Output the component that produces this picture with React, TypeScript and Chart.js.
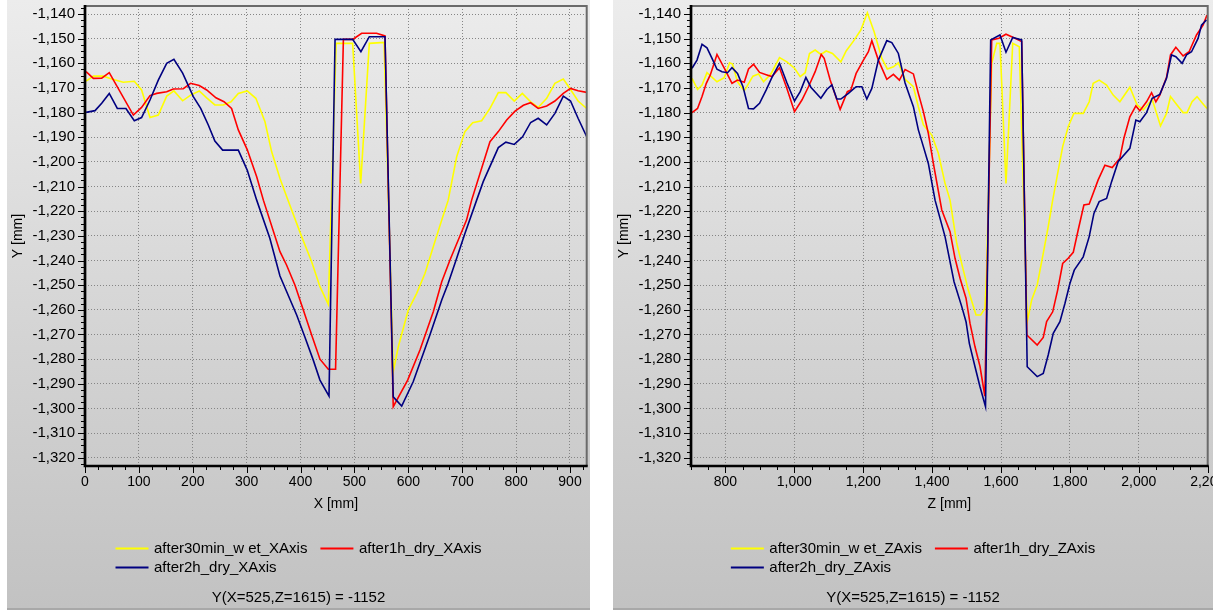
import React, { useEffect, useRef } from 'react';
import { Chart, registerables } from 'chart.js';

Chart.register(...registerables);

// ---------- Left panel: profile along X ----------
const xWetX = [2, 15.5, 34, 49.5, 71, 91.5, 105, 120.6, 136, 151.6, 165, 181.2, 196, 212, 225.8, 241, 256.6, 271, 284.5, 301, 317, 334, 346.4, 361.8, 375, 402, 420.6, 436, 451.5, 466, 496.7, 511.6, 527.6, 555, 572, 581.4, 600, 615.5, 631, 646.3, 662, 674, 689.7, 705, 719.4, 736, 751.5, 767, 781, 796.6, 811.5, 827, 841, 856.7, 872, 887.6, 901, 915, 931];
const yWetX = [-1167.2, -1165.2, -1165.2, -1166.4, -1167.7, -1167.3, -1170.8, -1182, -1181, -1173.3, -1171.2, -1175.2, -1172.9, -1171.2, -1174, -1176.9, -1176.9, -1175.6, -1172.2, -1171.2, -1174.2, -1183.7, -1195.9, -1206.7, -1214.5, -1230.3, -1240.5, -1250.6, -1257.8, -1151.9, -1151.9, -1208.7, -1151.9, -1151.5, -1285, -1275, -1260, -1253.3, -1245.2, -1234.4, -1223.6, -1215.5, -1197.9, -1187.7, -1184.1, -1183.3, -1178.3, -1171.9, -1171.9, -1175.3, -1172.2, -1175.6, -1177.9, -1174.2, -1168.1, -1166.4, -1170.6, -1175.3, -1178.3];

const xDry1X = [2, 15.5, 31, 45, 89.7, 105, 120.6, 133, 151.6, 163.9, 182.4, 196, 212, 225.8, 243, 258, 272, 284.5, 301, 318.6, 331, 361.8, 374, 389.7, 405, 420.6, 436, 451.5, 465, 479.5, 496.7, 513.4, 541, 556.7, 572, 598.8, 621.6, 646.3, 662, 677.3, 699, 708, 717.5, 751.5, 767, 782.5, 798, 813.5, 827, 841, 856.7, 872, 887.6, 901, 915, 931];
const yDry1X = [-1163.4, -1166.1, -1166, -1163.8, -1181, -1177.9, -1173.1, -1172.2, -1171.5, -1170.4, -1170.3, -1168.1, -1169, -1170.8, -1174, -1175.6, -1178.3, -1187, -1195, -1206, -1215.5, -1236.4, -1241.8, -1250, -1260, -1270.2, -1280, -1284.1, -1284.1, -1150.3, -1150.3, -1147.8, -1147.8, -1148.9, -1299.3, -1288.5, -1276.3, -1260.8, -1248.6, -1239.8, -1228.3, -1223.6, -1215.5, -1191.8, -1187.7, -1183, -1179.4, -1177, -1176, -1178.3, -1177.3, -1175.3, -1172.2, -1170.2, -1171.1, -1171.8];

const xDry2X = [2, 18.6, 31, 45, 60, 76, 91.5, 105, 120.6, 136, 151.6, 165, 181.2, 201, 214.7, 228.8, 241, 255.4, 271, 284.5, 301, 318.6, 343, 361.8, 392.8, 408, 423.6, 436, 452.8, 464, 496.7, 512, 527.6, 556.7, 572, 587.7, 609, 640, 662, 674, 689.7, 705, 726.8, 739, 767, 781, 796.6, 812, 827, 841, 856.7, 872, 887.6, 901, 915, 931];
const yDry2X = [-1179.9, -1179.2, -1176.2, -1172.2, -1178.3, -1178.3, -1183.3, -1182, -1174.9, -1166.8, -1160, -1158.4, -1164, -1173.5, -1178.3, -1185, -1191.5, -1195.2, -1195.2, -1195.2, -1203.3, -1215.5, -1231, -1246.3, -1262.1, -1271, -1280.4, -1288.5, -1295, -1150.3, -1150.3, -1155.3, -1149.2, -1149.2, -1295.3, -1299, -1289.2, -1270.2, -1256, -1249.2, -1239.1, -1229, -1215.5, -1208, -1194.2, -1192, -1192.9, -1189.8, -1184, -1182.3, -1185, -1180.3, -1173.3, -1175.3, -1182.3, -1189.8];

// ---------- Right panel: profile along Z ----------
const zWetZ = [703, 719, 732, 746.4, 775.4, 796.6, 812, 820.6, 835, 854.6, 879.8, 896, 910.6, 932, 957, 978.4, 1000.5, 1017, 1031.5, 1044, 1060.5, 1077, 1092.4, 1110.7, 1135, 1150.4, 1171.6, 1193, 1212, 1231.6, 1254, 1270, 1287.6, 1302, 1321.5, 1345.6, 1360, 1374.6, 1399, 1418, 1437.5, 1452, 1471.4, 1490.6, 1505, 1527.5, 1541, 1553.5, 1558, 1573, 1587.5, 1597, 1614.4, 1634, 1653, 1676, 1689, 1705, 1722.6, 1737, 1750, 1779, 1795, 1811.6, 1838.6, 1856, 1867.6, 1885, 1906.5, 1925.6, 1945, 1974, 1995.3, 2012.6, 2038.8, 2063, 2080.5, 2092, 2111, 2128.6, 2140, 2154.6, 2169, 2184.8, 2198];
const yWetZ = [-1166.1, -1170.6, -1168.8, -1163.8, -1167.5, -1165.8, -1159.8, -1160.3, -1167.5, -1171.2, -1165.2, -1164.3, -1167.5, -1164.3, -1157.7, -1159.4, -1162, -1165.4, -1163.8, -1156, -1154.6, -1156.4, -1155, -1156, -1159.4, -1155, -1151, -1146.5, -1139.5, -1147.2, -1158, -1162.3, -1161.4, -1159.8, -1166.5, -1169.5, -1177.6, -1185, -1189.1, -1196.5, -1208.7, -1215.5, -1233, -1243.9, -1252, -1262.1, -1262.1, -1259.4, -1245, -1160, -1151.9, -1151.9, -1208.7, -1151.9, -1153.3, -1264.8, -1256, -1249.9, -1237.1, -1226.3, -1215.5, -1193.8, -1185.7, -1180.3, -1180.3, -1175.6, -1168.1, -1166.8, -1168.8, -1172.9, -1175.6, -1169.7, -1176.9, -1178.9, -1174.6, -1185.4, -1180.3, -1173.5, -1176.9, -1180, -1180, -1175.6, -1173.5, -1176.2, -1178.3];

const zDry1Z = [703, 719, 732, 744.4, 756, 775.4, 796.6, 819, 835, 854.6, 867, 881.6, 899, 920.4, 935, 957, 978.4, 1000.5, 1022, 1041, 1060.5, 1078, 1086.6, 1104, 1133, 1154, 1164, 1179.4, 1200.6, 1215, 1225, 1244, 1268.4, 1287.6, 1305, 1321.5, 1345.6, 1360, 1374.6, 1389, 1403.6, 1428, 1452, 1466.5, 1481, 1498.4, 1510, 1524.5, 1539, 1553, 1573, 1594, 1614.4, 1640.6, 1660, 1675, 1705, 1722.6, 1732.4, 1750, 1764.4, 1779, 1795, 1809.7, 1824, 1840.6, 1856, 1882, 1901.6, 1922.8, 1945, 1956.7, 1974, 1991.5, 2003, 2022.5, 2037, 2049.5, 2061, 2080.5, 2092, 2107.5, 2128.6, 2146, 2167.5, 2186.6, 2198];
const yDry1Z = [-1180, -1178.3, -1173.5, -1168.1, -1164.7, -1156.4, -1162, -1168.1, -1166.8, -1167.7, -1162.3, -1160.4, -1163.7, -1164.7, -1165.4, -1161.8, -1170.2, -1179.6, -1174.9, -1169.5, -1163.4, -1156.4, -1158, -1166.8, -1178.7, -1171.5, -1170.8, -1164.1, -1158.7, -1155.3, -1150.8, -1158.7, -1166.5, -1164.5, -1166.8, -1162.5, -1164.3, -1172.2, -1179.6, -1188.4, -1200.6, -1219.5, -1228.3, -1239.1, -1247.2, -1255.3, -1265.5, -1275, -1283, -1295, -1150.5, -1149.8, -1148.2, -1149.8, -1151.2, -1270.2, -1274.3, -1271.2, -1264.8, -1260.8, -1252, -1241.2, -1239.1, -1236.7, -1227.6, -1217.5, -1217.1, -1207.3, -1201.3, -1202.3, -1198.5, -1190.4, -1181.7, -1177.3, -1179.2, -1175.6, -1171.9, -1175.6, -1172.9, -1165.7, -1156.6, -1153.5, -1157, -1155.3, -1148.5, -1144.5, -1140.4];

const zDry2Z = [703, 717.4, 732, 746.4, 761, 775.4, 790, 806, 819, 835, 851, 867, 881.6, 899, 918.4, 935, 957, 978.4, 1000.5, 1017, 1033.5, 1048, 1077, 1094.4, 1109, 1123.4, 1135, 1157, 1179.4, 1196, 1210.4, 1225, 1244, 1268.4, 1283, 1302, 1321.5, 1345.6, 1360, 1374.6, 1389, 1408.5, 1437.5, 1463.6, 1486, 1498.4, 1508, 1524.5, 1539, 1555, 1570, 1597, 1614.4, 1634, 1660, 1676, 1705, 1722.6, 1737, 1751.6, 1771, 1785.5, 1800, 1812.6, 1838.6, 1856, 1869.7, 1885, 1906.5, 1921, 1940, 1974, 1991.5, 2003, 2022.5, 2038.8, 2061, 2080.5, 2095, 2107.5, 2125.8, 2138.5, 2153, 2172, 2182, 2196.5];
const yDry2Z = [-1162, -1158.7, -1152.3, -1153.7, -1158, -1162.4, -1163.4, -1163.8, -1161.8, -1164.1, -1169.5, -1178.3, -1178.5, -1176.2, -1170.8, -1165.7, -1160, -1167.9, -1175.3, -1171.5, -1165.7, -1169.7, -1174.2, -1170.6, -1168.8, -1174.5, -1174.5, -1172.2, -1169.5, -1169.5, -1174.5, -1170.2, -1158.7, -1150.8, -1151.6, -1156, -1168, -1177.6, -1187, -1193.8, -1200.6, -1215.5, -1230.3, -1248.6, -1258.7, -1264.8, -1273.6, -1283.1, -1291.2, -1299.3, -1150.5, -1148.5, -1155.5, -1149.5, -1150.5, -1283.1, -1287.1, -1285.8, -1278.3, -1269.5, -1264.8, -1257.4, -1249.3, -1243.9, -1238.5, -1230.3, -1220.9, -1216.1, -1214.8, -1208, -1199.9, -1194.5, -1183, -1183.7, -1180, -1174.2, -1172.6, -1166.1, -1156.6, -1157.3, -1160, -1156.6, -1155.3, -1149.9, -1144.5, -1142.4];

// ---------- Ticks, labels ----------
const yTicks = [-1320, -1310, -1300, -1290, -1280, -1270, -1260, -1250, -1240, -1230, -1220, -1210, -1200, -1190, -1180, -1170, -1160, -1150, -1140];
const xTicksLeft = [0, 100, 200, 300, 400, 500, 600, 700, 800, 900];
const zTicksRight = [800, 1000, 1200, 1400, 1600, 1800, 2000, 2200];
const legendLeft = ['after30min_w et_XAxis', 'after1h_dry_XAxis', 'after2h_dry_XAxis'];
const legendRight = ['after30min_w et_ZAxis', 'after1h_dry_ZAxis', 'after2h_dry_ZAxis'];
const seriesColors = ['#ffff00', '#ff0000', '#000080'];
const footerText = 'Y(X=525,Z=1615) = -1152';

const FAMILY = "'Liberation Sans', Arial, Helvetica, sans-serif";
const PANEL_H = 608;

type PanelCfg = {
  width: number;
  padRight: number;
  xMin: number;
  xMax: number;
  xTicks: number[];
  xMinorStep: number;
  xMajorStep: number;
  xMajorBase: number;
  xTitle: string;
  labels: string[];
  series: { x: number[]; y: number[] }[];
};

const yMin = -1323.35;
const yMax = -1136.75;

function makeDecor(cfg: PanelCfg) {
  return {
    id: 'decor',
    afterDraw(chart: any) {
      const { ctx, chartArea: a, scales } = chart;
      const xs = scales.x;
      const ys = scales.y;
      ctx.save();
      // tick marks
      ctx.strokeStyle = '#000';
      ctx.lineWidth = 1;
      ctx.beginPath();
      for (let v = cfg.xMin; v <= cfg.xMax + 0.001; v += cfg.xMinorStep) {
        const p = Math.round(xs.getPixelForValue(v)) + 0.5;
        const rel = (v - cfg.xMajorBase) / cfg.xMajorStep;
        const major = Math.abs(rel - Math.round(rel)) < 1e-6;
        const len = major ? 7 : 4;
        ctx.moveTo(p, a.bottom);
        ctx.lineTo(p, a.bottom + len);
      }
      for (let v = -1322.5; v <= yMax; v += 2.5) {
        const p = Math.round(ys.getPixelForValue(v)) + 0.5;
        const major = Math.abs(v / 10 - Math.round(v / 10)) < 1e-6;
        const len = major ? 7 : 4;
        ctx.moveTo(a.left, p);
        ctx.lineTo(a.left - len, p);
      }
      ctx.stroke();
      // frame
      ctx.strokeStyle = '#6a6a6a';
      ctx.lineWidth = 2;
      ctx.beginPath();
      ctx.moveTo(a.left, a.top);
      ctx.lineTo(a.right, a.top);
      ctx.lineTo(a.right, a.bottom);
      ctx.stroke();
      ctx.strokeStyle = '#000';
      ctx.lineWidth = 2.7;
      ctx.beginPath();
      ctx.moveTo(a.left, a.top - 1);
      ctx.lineTo(a.left, a.bottom);
      ctx.lineTo(a.right + 1, a.bottom);
      ctx.stroke();

      // axis titles
      ctx.fillStyle = '#000';
      ctx.font = `14px ${FAMILY}`;
      ctx.textAlign = 'center';
      ctx.textBaseline = 'middle';
      ctx.fillText(cfg.xTitle, (a.left + a.right) / 2, 504);
      ctx.save();
      ctx.translate(11, (a.top + a.bottom) / 2);
      ctx.rotate(-Math.PI / 2);
      ctx.fillText('Y [mm]', 0, 0);
      ctx.restore();

      // legend
      ctx.font = `15px ${FAMILY}`;
      const w = cfg.labels.map((l) => ctx.measureText(l).width);
      const sample = 33;
      const gap = 5.5;
      const itemGap = 13;
      const total = sample + gap + w[0] + itemGap + sample + gap + w[1];
      const x0 = cfg.width / 2 - total / 2;
      const items = [
        { x: x0, y: 548.5 },
        { x: x0 + sample + gap + w[0] + itemGap, y: 548.5 },
        { x: x0, y: 567.5 },
      ];
      items.forEach((it, i) => {
        ctx.strokeStyle = seriesColors[i];
        ctx.lineWidth = 2;
        ctx.beginPath();
        ctx.moveTo(it.x, it.y);
        ctx.lineTo(it.x + sample, it.y);
        ctx.stroke();
        ctx.textAlign = 'left';
        ctx.fillText(cfg.labels[i], it.x + sample + gap, it.y);
      });

      // footer
      ctx.textAlign = 'center';
      ctx.fillText(footerText, cfg.width / 2, 598);
      ctx.restore();
    },
  };
}

function Panel({ cfg, left }: { cfg: PanelCfg; left: number }) {
  const ref = useRef<HTMLCanvasElement>(null);
  useEffect(() => {
    const canvas = ref.current!;
    const fmt = (v: any) => Number(v).toLocaleString('en-US');
    const chart = new Chart(canvas, {
      type: 'line',
      data: {
        datasets: cfg.series.map((s, i) => ({
          label: cfg.labels[i],
          data: s.x.map((x, j) => ({ x, y: s.y[j] })),
          borderColor: seriesColors[i],
          backgroundColor: seriesColors[i],
          borderWidth: 1.6,
          pointRadius: 0,
          tension: 0,
          fill: false,
          order: 2 - i,
        })),
      },
      options: {
        responsive: false,
        animation: false,
        locale: 'en-US',
        events: [],
        layout: { padding: { left: 0, top: 6, right: cfg.padRight, bottom: 0 } },
        plugins: { legend: { display: false }, tooltip: { enabled: false }, title: { display: false } },
        scales: {
          x: {
            type: 'linear',
            min: cfg.xMin,
            max: cfg.xMax,
            afterBuildTicks: (s: any) => {
              s.ticks = cfg.xTicks.map((v) => ({ value: v }));
            },
            afterFit: (s: any) => {
              s.height = PANEL_H - 466;
              s.paddingLeft = 0;
              s.paddingRight = 0;
            },
            ticks: {
              autoSkip: false,
              maxRotation: 0,
              minRotation: 0,
              padding: 8,
              color: '#000',
              font: { family: FAMILY, size: 14 },
              callback: fmt,
            },
            grid: { color: '#858585', lineWidth: 1, drawTicks: false },
            border: { display: false, dash: [1, 2] },
          },
          y: {
            type: 'linear',
            min: yMin,
            max: yMax,
            afterBuildTicks: (s: any) => {
              s.ticks = yTicks.map((v) => ({ value: v }));
            },
            afterFit: (s: any) => {
              s.width = 78;
              s.paddingTop = 0;
              s.paddingBottom = 0;
            },
            ticks: {
              autoSkip: false,
              padding: 10,
              color: '#000',
              font: { family: FAMILY, size: 15 },
              callback: fmt,
            },
            grid: { color: '#858585', lineWidth: 1, drawTicks: false },
            border: { display: false, dash: [1, 2] },
          },
        },
      } as any,
      plugins: [makeDecor(cfg)],
    });
    return () => chart.destroy();
  }, []);
  return (
    <div
      style={{
        position: 'absolute',
        left,
        top: 0,
        width: cfg.width,
        height: PANEL_H,
        background: 'linear-gradient(to bottom, #ececec 0%, #d6d6d6 50%, #c2c2c2 100%)',
        borderBottom: '2px solid #a8a8a8',
      }}
    >
      <canvas ref={ref} width={cfg.width} height={PANEL_H} style={{ display: 'block', width: cfg.width, height: PANEL_H }} />
    </div>
  );
}

const leftCfg: PanelCfg = {
  width: 583,
  padRight: 3.3,
  xMin: 0,
  xMax: 931,
  xTicks: xTicksLeft,
  xMinorStep: 25,
  xMajorStep: 100,
  xMajorBase: 0,
  xTitle: 'X [mm]',
  labels: legendLeft,
  series: [
    { x: xWetX, y: yWetX },
    { x: xDry1X, y: yDry1X },
    { x: xDry2X, y: yDry2X },
  ],
};

const rightCfg: PanelCfg = {
  width: 600,
  padRight: 5.3,
  xMin: 700,
  xMax: 2200,
  xTicks: zTicksRight,
  xMinorStep: 50,
  xMajorStep: 200,
  xMajorBase: 800,
  xTitle: 'Z [mm]',
  labels: legendRight,
  series: [
    { x: zWetZ, y: yWetZ },
    { x: zDry1Z, y: yDry1Z },
    { x: zDry2Z, y: yDry2Z },
  ],
};

export default function App() {
  return (
    <div style={{ position: 'absolute', left: 0, top: 0, width: 1213, height: 610, overflow: 'hidden', background: '#ffffff' }}>
      <Panel cfg={leftCfg} left={7} />
      <Panel cfg={rightCfg} left={613} />
    </div>
  );
}
